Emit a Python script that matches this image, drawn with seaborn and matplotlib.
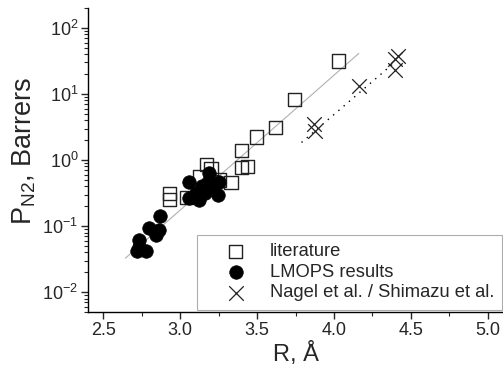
import numpy as np
import pandas as pd
import matplotlib
matplotlib.use("Agg")
import matplotlib.pyplot as plt
from matplotlib.ticker import MultipleLocator, LogLocator, NullFormatter
import seaborn as sns

# данные
lit_R = [2.93, 2.93, 3.04, 3.125, 3.17, 3.20, 3.255, 3.33, 3.40, 3.40, 3.44, 3.498, 3.62, 3.743, 4.03]
lit_P = [0.315, 0.25, 0.27, 0.57, 0.85, 0.75, 0.50, 0.46, 1.38, 0.77, 0.80, 2.24, 3.1, 8.35, 31.6]

lmops_R = [2.72, 2.73, 2.73, 2.78, 2.795, 2.843, 2.865, 2.871, 3.06, 3.06, 3.10, 3.125,
           3.16, 3.18, 3.19, 3.244, 3.255, 3.20, 3.14]
lmops_P = [0.042, 0.048, 0.0626, 0.042, 0.094, 0.074, 0.089, 0.144, 0.47, 0.265, 0.315, 0.25,
           0.315, 0.47, 0.63, 0.30, 0.47, 0.38, 0.40]

nagel_R = [3.869, 3.88, 4.16, 4.395, 4.416, 4.40]
nagel_P = [3.47, 2.76, 13.1, 33.8, 38.0, 23.0]

# линии аппроксимации: log10(P) = a + b*R
lit_fit = (-6.876, 2.04)
lit_fit_range = (2.643, 4.162)
nagel_fit = (-7.311, 2.0)
nagel_fit_range = (3.789, 4.384)

sns.set_style("ticks")
plt.rcParams["font.family"] = ["Liberation Sans", "DejaVu Sans"]
plt.rcParams["mathtext.default"] = "regular"

fig = plt.figure(figsize=(5.03, 3.83), dpi=100)
ax = fig.add_axes([0.175, 0.185, 0.825, 0.794])

def fit_df(fit, rng):
    r = np.array(rng)
    return pd.DataFrame({"R": r, "P": 10 ** (fit[0] + fit[1] * r)})

d1 = fit_df(lit_fit, lit_fit_range)
sns.lineplot(data=d1, x="R", y="P", ax=ax, color="#b0b0b0", lw=0.8, legend=False)
d2 = fit_df(nagel_fit, nagel_fit_range)
sns.lineplot(data=d2, x="R", y="P", ax=ax, color="black", lw=1.0,
             linestyle=(0, (1, 4)), legend=False)

sns.scatterplot(x=lit_R, y=lit_P, ax=ax, marker="s", s=90, facecolors="none",
                edgecolor="#222222", linewidth=1.0, label="literature", zorder=3)
sns.scatterplot(x=lmops_R, y=lmops_P, ax=ax, marker="o", s=95, color="black",
                edgecolor="black", linewidth=0.5, label="LMOPS results", zorder=4)
sns.scatterplot(x=nagel_R, y=nagel_P, ax=ax, marker="x", s=110, color="#222222",
                linewidth=0.9, label="Nagel et al. / Shimazu et al.", zorder=3)

ax.set_yscale("log")
ax.set_xlim(2.4, 5.1)
ax.set_ylim(0.005, 200)
ax.xaxis.set_major_locator(MultipleLocator(0.5))
ax.xaxis.set_minor_locator(MultipleLocator(0.25))
ax.yaxis.set_minor_locator(LogLocator(base=10, subs=np.arange(2, 10), numticks=20))
ax.yaxis.set_minor_formatter(NullFormatter())
ax.tick_params(which="major", direction="out", length=5, width=1, labelsize=13, pad=2)
ax.tick_params(which="minor", direction="out", length=3, width=0.8)
sns.despine(ax=ax)
for s in ["left", "bottom"]:
    ax.spines[s].set_linewidth(1.0)
    ax.spines[s].set_color("black")

ax.set_xlabel("R, Å", fontsize=17, labelpad=2)
ax.set_ylabel("P$_{N2}$, Barrers", fontsize=19.5)
ax.yaxis.set_label_coords(-0.12, 0.53)

leg = ax.legend(loc="lower right", bbox_to_anchor=(1.02, -0.022), fontsize=13.2,
                frameon=True, fancybox=False, edgecolor="#999999",
                handletextpad=0.2, borderpad=0.45, labelspacing=0.2, handlelength=3.3)
leg.get_frame().set_linewidth(0.8)

fig.savefig("out.png", dpi=100)
